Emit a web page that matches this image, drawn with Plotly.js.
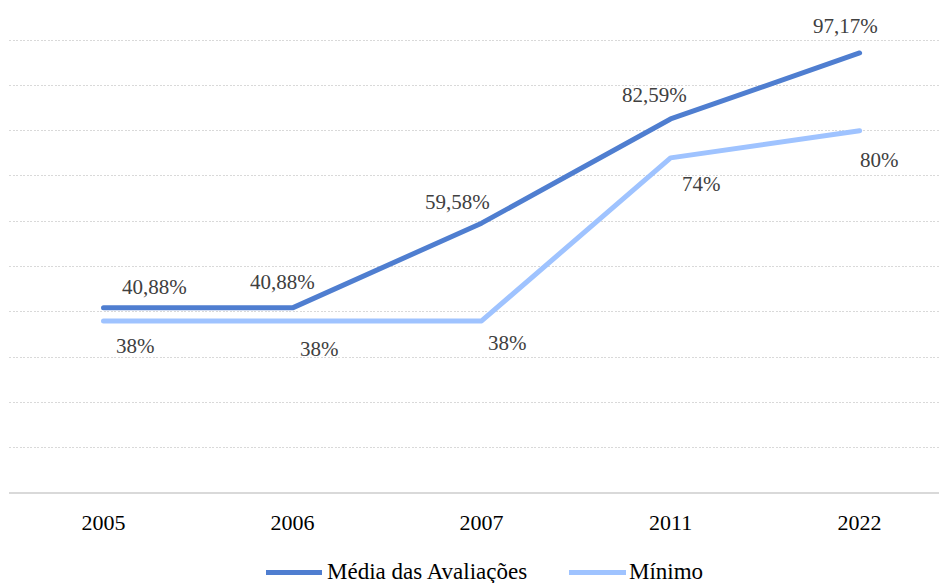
<!DOCTYPE html>
<html>
<head>
<meta charset="utf-8">
<script src="https://cdn.plot.ly/plotly-3.0.1.min.js"></script>
<style>
  body { margin: 0; }
  .scatterlayer .js-line { stroke-linecap: round; stroke-linejoin: round; }
</style>
</head>
<body>
<div id="chart"></div>
<script>
// Categories (years) and the two series, in percent
const years = ['2005', '2006', '2007', '2011', '2022'];
const media = [40.88, 40.88, 59.58, 82.59, 97.17];
const minimo = [38, 38, 38, 74, 80];
const seriesNames = ['Média das Avaliações', 'Mínimo'];

// Styling
const colMedia = '#4F7ED0';
const colMinimo = '#9FC3FF';
const serifFamily = 'Times New Roman';

// Layout geometry (pixels)
const W = 939, H = 583;
const M = { l: 9, r: 0, t: 39, b: 90 };
const plotW = W - M.l - M.r;
const plotH = H - M.t - M.b;
const pxToPaperX = px => (px - M.l) / plotW;
const pxToPaperY = py => (H - M.b - py) / plotH;

// Pixel offsets of each value label from its point [dx, dy] (dy positive = up)
const mediaLabelShift = [[51, 21], [-10, 26], [-24, 21], [-16, 24], [-14, 27]];
const minimoLabelShift = [[32, -25], [27, -28], [26, -22], [31, -26], [20, -29]];

const fmt = v => (Number.isInteger(v) ? String(v) : v.toFixed(2).replace('.', ',')) + '%';

const traces = [
  {
    type: 'scatter', mode: 'lines', name: seriesNames[0],
    x: years, y: media,
    line: { color: colMedia, width: 5 },
    cliponaxis: false, showlegend: false, hoverinfo: 'skip'
  },
  {
    type: 'scatter', mode: 'lines', name: seriesNames[1],
    x: years, y: minimo,
    line: { color: colMinimo, width: 5 },
    cliponaxis: false, showlegend: false, hoverinfo: 'skip'
  }
];

const annotations = [];
years.forEach((yr, i) => {
  annotations.push({
    x: i, y: media[i], xref: 'x', yref: 'y', text: fmt(media[i]),
    showarrow: false, xanchor: 'center', yanchor: 'middle',
    xshift: mediaLabelShift[i][0], yshift: mediaLabelShift[i][1],
    font: { family: serifFamily, size: 21, color: '#404040' }
  });
  annotations.push({
    x: i, y: minimo[i], xref: 'x', yref: 'y', text: fmt(minimo[i]),
    showarrow: false, xanchor: 'center', yanchor: 'middle',
    xshift: minimoLabelShift[i][0], yshift: minimoLabelShift[i][1],
    font: { family: serifFamily, size: 21, color: '#404040' }
  });
});

// Legend drawn below the axis: line swatch followed by the series name
const legendY = 572.5;
const legendItems = [
  { name: seriesNames[0], color: colMedia, x0: 266, x1: 322, tx: 325 },
  { name: seriesNames[1], color: colMinimo, x0: 569, x1: 626, tx: 627 }
];
const shapes = [];
legendItems.forEach(it => {
  shapes.push({
    type: 'line', xref: 'paper', yref: 'paper',
    x0: pxToPaperX(it.x0), x1: pxToPaperX(it.x1),
    y0: pxToPaperY(legendY), y1: pxToPaperY(legendY),
    line: { color: it.color, width: 5 }
  });
  annotations.push({
    x: pxToPaperX(it.tx), y: pxToPaperY(legendY - 1), xref: 'paper', yref: 'paper',
    text: it.name, showarrow: false, xanchor: 'left', yanchor: 'middle',
    font: { family: serifFamily, size: 23, color: '#000000' }
  });
});

const layout = {
  width: W, height: H,
  margin: M,
  paper_bgcolor: '#ffffff', plot_bgcolor: '#ffffff',
  showlegend: false,
  font: { family: serifFamily, color: '#000000' },
  xaxis: {
    type: 'category', range: [-0.5, 4.42], fixedrange: true,
    showgrid: false, zeroline: false, showline: false, ticks: '',
    ticklabelstandoff: 14,
    tickfont: { family: serifFamily, size: 22, color: '#000000' }
  },
  yaxis: {
    range: [0, 100.25], dtick: 10, tick0: 0, fixedrange: true,
    showticklabels: false, ticks: '',
    showgrid: true, gridcolor: '#d9d9d9', gridwidth: 1, griddash: '2px,1.5px',
    zeroline: true, zerolinecolor: '#d9d9d9', zerolinewidth: 2,
    showline: false
  },
  annotations: annotations,
  shapes: shapes
};

const draw = () => Plotly.react('chart', traces, layout, { displayModeBar: false });
draw();
// Redraw once the serif face is ready so text metrics use it
if (document.fonts && document.fonts.load) {
  document.fonts.load('22px "Times New Roman"', 'Média das Avaliações Mínimo 0123456789,%')
    .then(draw, draw);
}
</script>
</body>
</html>
